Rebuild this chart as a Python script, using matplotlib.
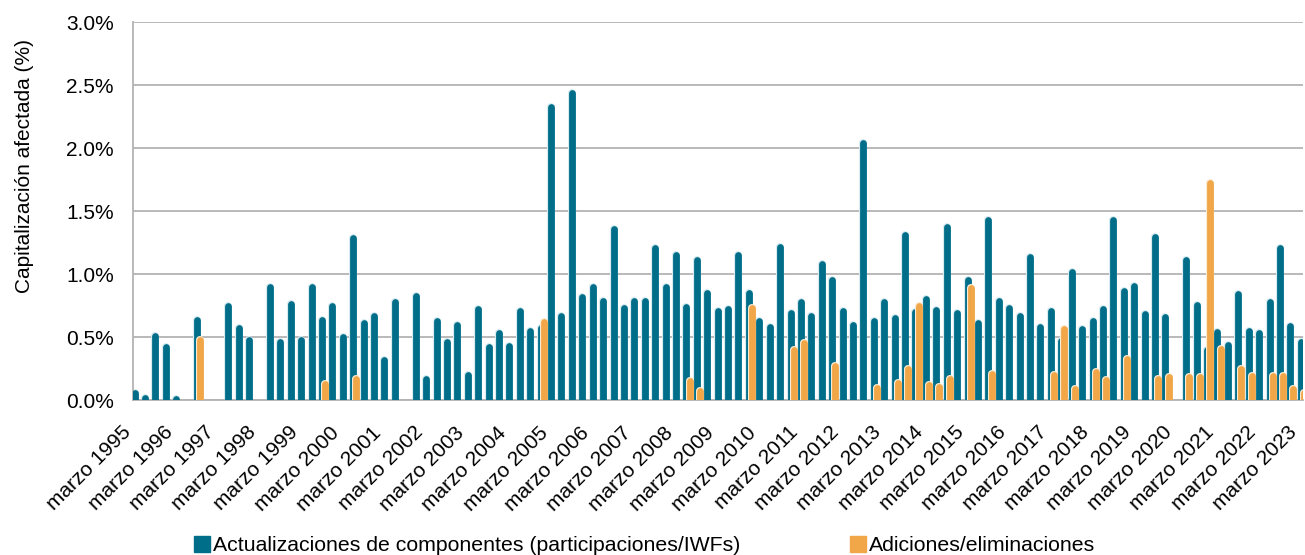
import numpy as np
import matplotlib.pyplot as plt
import matplotlib.transforms as mtransforms
from matplotlib.patches import Patch

plt.rcParams['font.family'] = ['Liberation Sans', 'DejaVu Sans']

# trimestral, de marzo 1995 a marzo 2023 (113 trimestres); None = sin dato
componentes = [0.06, 0.02, 0.51, 0.42, 0.01, None, 0.64, None, None, 0.75,
               0.57, 0.48, None, 0.90, 0.46, 0.76, 0.48, 0.90, 0.64, 0.75,
               0.50, 1.29, 0.61, 0.665, 0.32, 0.78, None, 0.83, 0.17, 0.625,
               0.46, 0.60, 0.20, 0.72, 0.42, 0.53, 0.43, 0.71, 0.55, 0.57,
               2.33, 0.67, 2.44, 0.82, 0.90, 0.785, 1.36, 0.73, 0.79, 0.79,
               1.21, 0.90, 1.155, 0.74, 1.11, 0.85, 0.71, 0.72, 1.155, 0.85,
               0.63, 0.58, 1.215, 0.69, 0.78, 0.665, 1.08, 0.955, 0.71, 0.60,
               2.04, 0.63, 0.78, 0.65, 1.31, 0.70, 0.80, 0.715, 1.375, 0.69,
               0.95, 0.61, 1.43, 0.785, 0.73, 0.67, 1.14, 0.58, 0.71, 0.47,
               1.015, 0.565, 0.63, 0.72, 1.43, 0.87, 0.905, 0.685, 1.295, 0.66,
               None, 1.11, 0.755, 0.40, 0.54, 0.44, 0.84, 0.55, 0.53, 0.78,
               1.21, 0.585, 0.46]

adiciones = [None, None, None, None, None, None, 0.48, None, None, None,
             None, None, None, None, None, None, None, None, 0.125, None,
             None, 0.17, None, None, None, None, None, None, None, None,
             None, None, None, None, None, None, None, None, None, 0.62,
             None, None, None, None, None, None, None, None, None, None,
             None, None, None, 0.15, 0.07, None, None, None, None, 0.73,
             None, None, None, 0.40, 0.45, None, None, 0.27, None, None,
             None, 0.10, None, 0.14, 0.25, 0.75, 0.12, 0.105, 0.17, None,
             0.89, None, 0.21, None, None, None, None, None, 0.20, 0.565,
             0.09, None, 0.225, 0.16, None, 0.325, None, None, 0.17, 0.185,
             None, 0.18, 0.185, 1.72, 0.41, None, 0.245, 0.19, None, 0.19,
             0.19, 0.09, 0.06]

years = list(range(1995, 2024))
tick_labels = ['marzo %d' % y for y in years]

teal = '#016E89'
orange = '#F1A748'

comp = np.array(componentes, dtype=float)
adic = np.array(adiciones, dtype=float)
x = np.arange(len(comp))

fig = plt.figure(figsize=(13.05, 5.55), dpi=100)
ax = fig.add_axes([0.102, 0.279, 0.8965, 0.681])

lw = 4.9
m = ~np.isnan(comp)
ax.vlines(x[m] - 0.15, 0, comp[m], colors='#D8EBF0', linewidth=lw + 0.9, capstyle='round', zorder=2)
ax.vlines(x[m] - 0.15, 0, comp[m], colors=teal, linewidth=lw, capstyle='round', zorder=3)
m = ~np.isnan(adic)
ax.vlines(x[m] + 0.15, 0, adic[m], colors='#FBEBD5', linewidth=lw + 0.9, capstyle='round', zorder=4)
ax.vlines(x[m] + 0.15, 0, adic[m], colors=orange, linewidth=lw, capstyle='round', zorder=5)

ax.set_xlim(-0.29, 112.07)
ax.set_ylim(0, 3.0)
ax.set_yticks(np.arange(0, 3.01, 0.5))
ax.set_yticklabels(['%.1f%%' % v for v in np.arange(0, 3.01, 0.5)], fontsize=15)
ax.yaxis.grid(True, color='#B3B3B3', linewidth=1.3, zorder=0)
ax.set_axisbelow(True)
ax.tick_params(axis='y', length=0, pad=14)
ax.set_ylabel('Capitalización afectada (%)', fontsize=15)
ax.yaxis.set_label_coords(-0.085, 0.62)

ax.set_xticks(x[::4])
ax.set_xticklabels(tick_labels, rotation=45, ha='right', va='baseline',
                   rotation_mode='anchor', fontsize=15)
ax.tick_params(axis='x', length=0, pad=24)
# nudge labels left so the last one stays inside the figure
shift = mtransforms.ScaledTranslation(-4 / 100, 0, fig.dpi_scale_trans)
for lab in ax.get_xticklabels():
    lab.set_transform(lab.get_transform() + shift)

for s in ['top', 'right']:
    ax.spines[s].set_visible(False)
ax.spines['left'].set_color('#B3B3B3')
ax.spines['bottom'].set_color('#B3B3B3')
ax.spines['left'].set_linewidth(1.3)
ax.spines['bottom'].set_linewidth(1.3)

handles = [Patch(facecolor=teal, edgecolor=teal),
           Patch(facecolor=orange, edgecolor=orange)]
fig.legend(handles, ['Actualizaciones de componentes (participaciones/IWFs)',
                     'Adiciones/eliminaciones'],
           loc='lower center', bbox_to_anchor=(0.494, -0.035), ncol=2, frameon=False,
           fontsize=15.3, handlelength=0.75, handleheight=0.75, handletextpad=0.15,
           columnspacing=5.15)

fig.savefig('out.png', dpi=100)
